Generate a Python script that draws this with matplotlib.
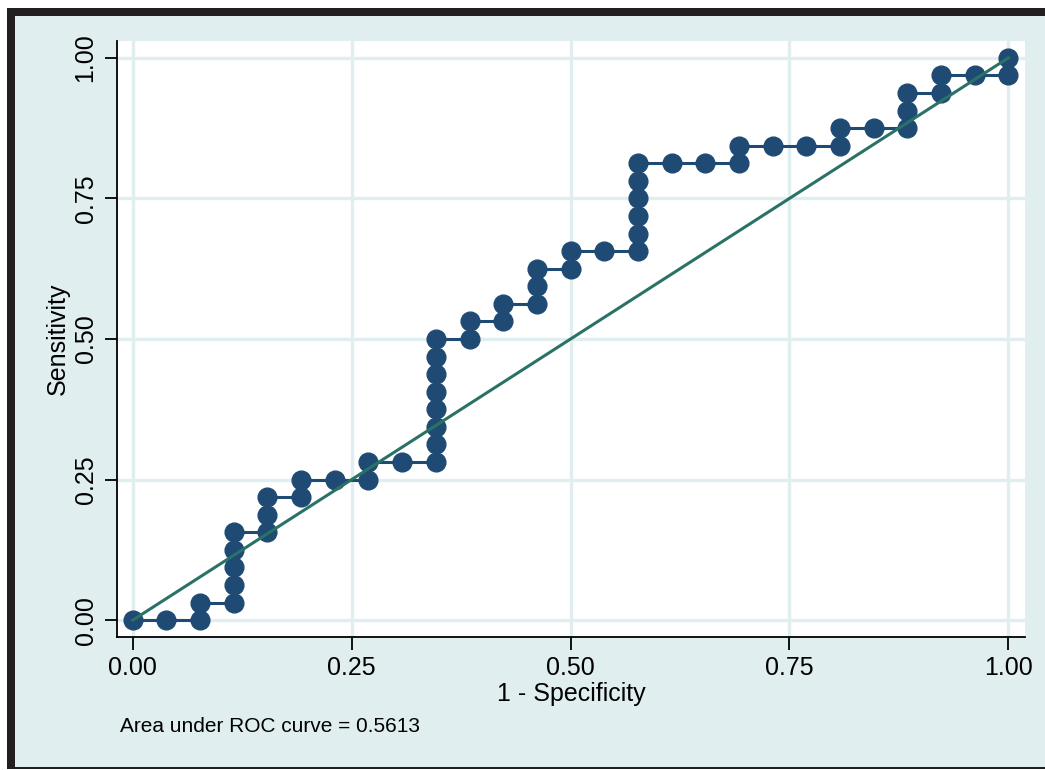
import matplotlib
matplotlib.use("Agg")
from matplotlib import pyplot as plt
from matplotlib.patches import Rectangle

# ROC points (1 - specificity, sensitivity)
fpr = [0.0, 0.0385, 0.0769, 0.0769, 0.1154, 0.1154, 0.1154, 0.1154, 0.1154,
       0.1538, 0.1538, 0.1538, 0.1923, 0.1923, 0.2308, 0.2692, 0.2692, 0.3077,
       0.3462, 0.3462, 0.3462, 0.3462, 0.3462, 0.3462, 0.3462, 0.3462, 0.3846,
       0.3846, 0.4231, 0.4231, 0.4615, 0.4615, 0.4615, 0.5, 0.5, 0.5385,
       0.5769, 0.5769, 0.5769, 0.5769, 0.5769, 0.5769, 0.6154, 0.6538, 0.6923,
       0.6923, 0.7308, 0.7692, 0.8077, 0.8077, 0.8462, 0.8846, 0.8846, 0.8846,
       0.9231, 0.9231, 0.9615, 1.0, 1.0]
sens = [0.0, 0.0, 0.0, 0.0313, 0.0313, 0.0625, 0.0938, 0.125, 0.1563,
        0.1563, 0.1875, 0.2188, 0.2188, 0.25, 0.25, 0.25, 0.2813, 0.2813,
        0.2813, 0.3125, 0.3438, 0.375, 0.4063, 0.4375, 0.4688, 0.5, 0.5,
        0.5313, 0.5313, 0.5625, 0.5625, 0.5938, 0.625, 0.625, 0.6563, 0.6563,
        0.6563, 0.6875, 0.7188, 0.75, 0.7813, 0.8125, 0.8125, 0.8125, 0.8125,
        0.8438, 0.8438, 0.8438, 0.8438, 0.875, 0.875, 0.875, 0.9063, 0.9375,
        0.9375, 0.9688, 0.9688, 0.9688, 1.0]
ref_x = [0, 1]
ref_y = [0, 1]
ticks = [0, 0.25, 0.5, 0.75, 1.0]
tick_labels = ["0.00", "0.25", "0.50", "0.75", "1.00"]
auc_note = "Area under ROC curve = 0.5613"

plt.rcParams["font.family"] = ["Liberation Sans", "DejaVu Sans"]

W, H = 1045, 770
fig = plt.figure(figsize=(W / 100, H / 100), dpi=100)
fig.patch.set_facecolor("white")

bg = "#E1EEF0"
navy = "#1F4A74"
green = "#2B7266"

# outer Stata-like frame
fig.add_artist(Rectangle((7 / W, 2 / H), (W - 7) / W, 760 / H,
                         transform=fig.transFigure, facecolor=bg, edgecolor="none", zorder=-10))
fig.add_artist(Rectangle((7 / W, (H - 16) / H), (W - 7) / W, 8 / H,
                         transform=fig.transFigure, facecolor="#231F20", edgecolor="none", zorder=-9))
fig.add_artist(Rectangle((7 / W, 2 / H), 8 / W, (H - 10) / H,
                         transform=fig.transFigure, facecolor="#231F20", edgecolor="none", zorder=-9))
fig.add_artist(Rectangle((7 / W, 1 / H), (W - 7) / W, 2 / H,
                         transform=fig.transFigure, facecolor="#231F20", edgecolor="none", zorder=-9))

ax = fig.add_axes([117 / W, 1 - 637 / H, (1025 - 117) / W, (637 - 41) / H])
ax.set_facecolor("white")

ax.plot(fpr, sens, color=navy, lw=2.2, marker="o", markersize=13.5,
        markerfacecolor=navy, markeredgecolor=navy, zorder=3)
ax.plot(ref_x, ref_y, color=green, lw=2.2, zorder=4)

ax.set_xlim(-0.018, 1.019)
ax.set_ylim(-0.030, 1.030)
ax.set_xticks(ticks)
ax.set_xticklabels(tick_labels)
ax.set_yticks(ticks)
ax.set_yticklabels(tick_labels, rotation=90, va="center")
ax.grid(True, color=bg, lw=2.4, zorder=0)
ax.set_axisbelow(True)

for s in ["top", "right"]:
    ax.spines[s].set_visible(False)
for s in ["left", "bottom"]:
    ax.spines[s].set_linewidth(1.3)
    ax.spines[s].set_color("black")
ax.tick_params(length=9, width=1.3, labelsize=18, pad=5)

ax.set_xlabel("1 - Specificity", fontsize=18, labelpad=1)
ax.set_ylabel("Sensitivity", fontsize=18, labelpad=3)

fig.text(120 / W, 1 - 727 / H, auc_note, fontsize=15, va="center", ha="left")

fig.savefig("out.png", dpi=100, facecolor=fig.get_facecolor())
